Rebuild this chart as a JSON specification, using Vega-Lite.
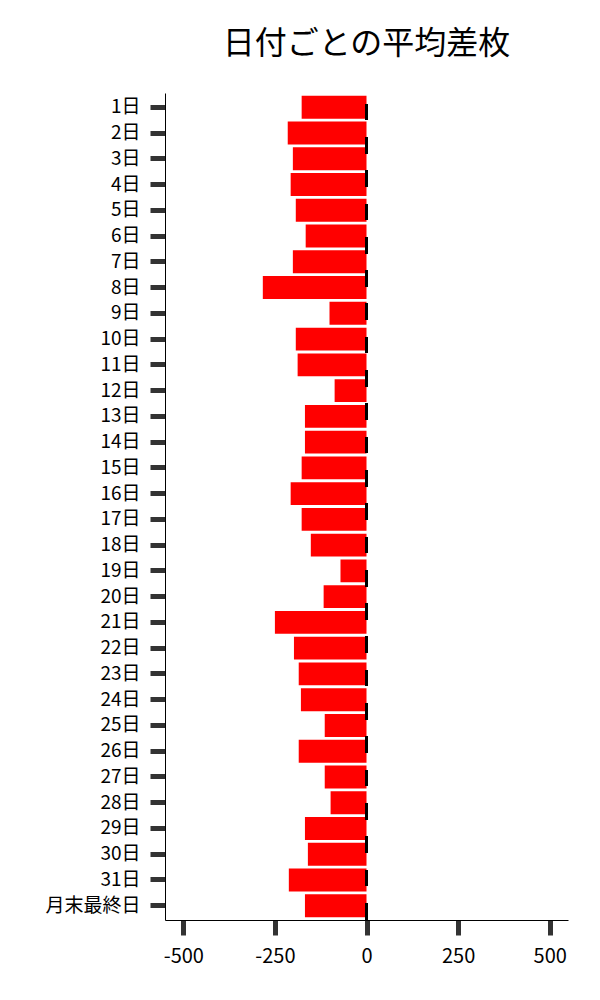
{
  "$schema": "https://vega.github.io/schema/vega-lite/v6.json",
  "width": 403,
  "height": 827,
  "autosize": "none",
  "padding": {"left": 165, "top": 93, "right": 32, "bottom": 80},
  "background": "white",
  "title": {
    "text": "日付ごとの平均差枚",
    "font": "Noto Sans CJK JP",
    "fontSize": 32,
    "fontWeight": "normal",
    "color": "black",
    "anchor": "middle",
    "offset": 31
  },
  "data": {
    "values": [
      {"day": "1日", "value": -177},
      {"day": "2日", "value": -215},
      {"day": "3日", "value": -201},
      {"day": "4日", "value": -207},
      {"day": "5日", "value": -193},
      {"day": "6日", "value": -166},
      {"day": "7日", "value": -201},
      {"day": "8日", "value": -283},
      {"day": "9日", "value": -101},
      {"day": "10日", "value": -193},
      {"day": "11日", "value": -188},
      {"day": "12日", "value": -87},
      {"day": "13日", "value": -168},
      {"day": "14日", "value": -168},
      {"day": "15日", "value": -177},
      {"day": "16日", "value": -207},
      {"day": "17日", "value": -177},
      {"day": "18日", "value": -152},
      {"day": "19日", "value": -71},
      {"day": "20日", "value": -117},
      {"day": "21日", "value": -250},
      {"day": "22日", "value": -198},
      {"day": "23日", "value": -185},
      {"day": "24日", "value": -179},
      {"day": "25日", "value": -114},
      {"day": "26日", "value": -185},
      {"day": "27日", "value": -114},
      {"day": "28日", "value": -98},
      {"day": "29日", "value": -168},
      {"day": "30日", "value": -160},
      {"day": "31日", "value": -212},
      {"day": "月末最終日", "value": -168}
    ]
  },
  "layer": [
    {
      "mark": {"type": "bar", "color": "#ff0000"},
      "encoding": {
        "y": {
          "field": "day",
          "type": "nominal",
          "sort": null,
          "title": null,
          "scale": {"paddingInner": 0.11, "paddingOuter": 0.11},
          "axis": {
            "labelFont": "Noto Sans CJK JP",
            "labelFontSize": 19,
            "labelColor": "black",
            "labelPadding": 10,
            "tickColor": "#333333",
            "tickWidth": 5,
            "tickSize": 15,
            "domainColor": "black",
            "domainWidth": 1
          }
        },
        "x": {
          "field": "value",
          "type": "quantitative",
          "title": null,
          "scale": {"domain": [-550, 550], "nice": false, "zero": false},
          "axis": {
            "values": [-500, -250, 0, 250, 500],
            "labelExpr": "replace(datum.label, '−', '-')",
            "grid": false,
            "labelFont": "Noto Sans CJK JP",
            "labelFontSize": 20,
            "labelColor": "black",
            "labelPadding": 11,
            "labelFlush": false,
            "tickColor": "#333333",
            "tickWidth": 5,
            "tickSize": 15,
            "domainColor": "black",
            "domainWidth": 1
          }
        }
      }
    },
    {
      "mark": {"type": "rule", "color": "black", "strokeWidth": 2, "strokeDash": [16, 17.3], "strokeDashOffset": 22.3},
      "encoding": {
        "x": {"datum": 0}
      }
    }
  ],
  "config": {
    "view": {"stroke": null}
  }
}
